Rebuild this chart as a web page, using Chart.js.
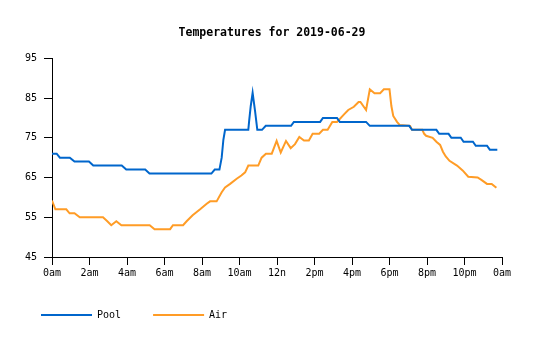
<!DOCTYPE html>
<html>
<head>
<meta charset="utf-8">
<script src="https://cdn.jsdelivr.net/npm/chart.js@4/dist/chart.umd.min.js"></script>
<style>
  html, body { margin: 0; padding: 0; background: #fff; }
  #wrap { width: 535px; height: 340px; }
</style>
</head>
<body>
<div id="wrap"><canvas id="tempChart" width="535" height="340"></canvas></div>
<script>
// hour labels along the bottom, one every 2 hours
const hourLabels = ['0am', '2am', '4am', '6am', '8am', '10am', '12n', '2pm', '4pm', '6pm', '8pm', '10pm', '0am']

// pool readings (hour of day, degrees)
const poolHours = [0, 0.25, 0.42, 0.95, 1.2, 1.97, 2.2, 3.72, 3.96, 4.97, 5.2, 8.5, 8.68, 8.93, 9.05, 9.14, 9.23, 10.47, 10.52, 10.6, 10.7, 10.83, 10.95, 11.2, 11.4, 12.75, 12.9, 14.3, 14.45, 15.2, 15.35, 16.75, 16.95, 19.05, 19.2, 20.5, 20.65, 21.15, 21.3, 21.8, 21.95, 22.45, 22.6, 23.2, 23.35, 23.75]
const poolTemps = [71, 71, 70, 70, 69, 69, 68, 68, 67, 67, 66, 66, 67, 67, 70, 74.5, 77, 77, 79.5, 83, 86.3, 81.7, 77, 77, 78, 78, 79, 79, 80, 80, 79, 79, 78, 78, 77, 77, 76, 76, 75, 75, 74, 74, 73, 73, 72, 72]

// air readings (hour of day, degrees)
const airHours = [0, 0.18, 0.76, 0.94, 1.2, 1.48, 2.72, 2.95, 3.16, 3.43, 3.7, 5.21, 5.47, 6.3, 6.45, 6.99, 7.18, 7.5, 7.9, 8.25, 8.43, 8.78, 9.05, 9.23, 9.5, 9.85, 10.1, 10.3, 10.47, 11.0, 11.18, 11.41, 11.72, 11.98, 12.2, 12.48, 12.73, 12.96, 13.19, 13.44, 13.7, 13.9, 14.25, 14.45, 14.7, 14.95, 15.2, 15.6, 15.8, 16.1, 16.35, 16.45, 16.75, 16.95, 17.2, 17.5, 17.7, 18.0, 18.1, 18.2, 18.4, 18.55, 19.1, 19.2, 19.75, 19.85, 19.95, 20.3, 20.5, 20.7, 20.85, 21.0, 21.2, 21.6, 21.9, 22.2, 22.7, 22.9, 23.2, 23.45, 23.7]
const airTemps = [59.2, 57, 57, 56, 56, 55, 55, 54, 53, 54, 53, 53, 52, 52, 53, 53, 54, 55.5, 57, 58.4, 59, 59, 61.3, 62.5, 63.4, 64.7, 65.5, 66.3, 68, 68, 70, 71, 71, 74.2, 71.3, 74.2, 72.4, 73.4, 75.2, 74.3, 74.3, 76, 76, 77, 77, 79, 79, 81, 82, 82.8, 84, 84, 82, 87.2, 86.2, 86.2, 87.2, 87.2, 83, 80.5, 79, 78.2, 78, 77, 77, 76, 75.5, 75, 74, 73.2, 71.5, 70.3, 69.2, 68, 66.8, 65.2, 65, 64.4, 63.4, 63.4, 62.4]

const poolColor = '#0066cc'
const airColor = '#ff9c26'

function toPoints(hours, temps) {
    return hours.map((h, i) => ({x: h, y: temps[i]}))
}

const monoFont = "'DejaVu Sans Mono', 'Liberation Mono', monospace"

let canvasElement = document.querySelector('#tempChart')

let config = {
    type: 'line',
    data: {
        datasets: [{
            label: 'Pool',
            data: toPoints(poolHours, poolTemps),
            borderColor: poolColor,
            backgroundColor: poolColor,
            borderWidth: 2,
            pointRadius: 0,
            tension: 0
        }, {
            label: 'Air',
            data: toPoints(airHours, airTemps),
            borderColor: airColor,
            backgroundColor: airColor,
            borderWidth: 2,
            pointRadius: 0,
            tension: 0
        }]
    },
    options: {
        responsive: false,
        animation: false,
        events: [],
        layout: { padding: { left: 9, right: 0, top: 0, bottom: 10 } },
        plugins: {
            title: {
                display: true,
                text: 'Temperatures for 2019-06-29',
                color: '#000',
                font: { family: monoFont, size: 11.5, weight: 'bold' },
                padding: { top: 26, bottom: 18.5 }
            },
            legend: {
                position: 'bottom',
                align: 'start',
                labels: {
                    color: '#000',
                    font: { family: monoFont, size: 10 },
                    boxWidth: 51,
                    boxHeight: 0,
                    padding: 32
                }
            },
            tooltip: { enabled: false }
        },
        scales: {
            x: {
                type: 'linear',
                min: 0,
                max: 24,
                border: { display: true, color: '#000', width: 1 },
                grid: { drawOnChartArea: false, drawTicks: true, tickLength: 8, color: '#000' },
                ticks: {
                    stepSize: 2,
                    color: '#000',
                    padding: 2,
                    maxRotation: 0,
                    font: { family: monoFont, size: 10 },
                    callback: (value) => hourLabels[value / 2]
                },
                // pull the axis line down a little, the labels hang into the legend gap
                afterFit: (scale) => { scale.height = scale.height - 3 }
            },
            y: {
                min: 45,
                max: 95,
                border: { display: true, color: '#000', width: 1 },
                grid: { drawOnChartArea: false, drawTicks: true, tickLength: 8, color: '#000' },
                ticks: {
                    stepSize: 10,
                    color: '#000',
                    padding: 7,
                    font: { family: monoFont, size: 10 }
                },
                afterFit: (scale) => { scale.width = 43 }
            },
            // empty right margin so the plot stops at the same place as the reference
            yRight: {
                position: 'right',
                display: true,
                border: { display: false },
                grid: { display: false },
                ticks: { display: false },
                afterFit: (scale) => { scale.width = 33 }
            }
        }
    }
}

let tempChart = new Chart(canvasElement, config)
</script>
</body>
</html>
